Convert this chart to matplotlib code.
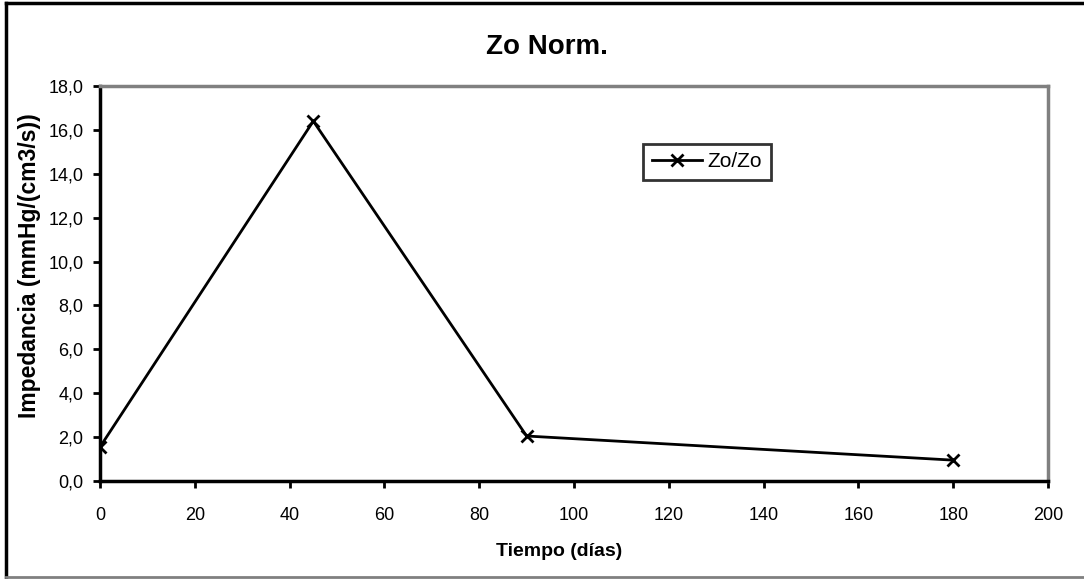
import matplotlib.pyplot as plt
from matplotlib.lines import Line2D
from matplotlib.ticker import FuncFormatter

# Normalised impedance over time
dias = [0, 45, 90, 180]
zo_norm = [1.55, 16.4, 2.05, 0.95]

plt.rcParams["font.family"] = ["Liberation Sans", "DejaVu Sans"]

fig = plt.figure(figsize=(10.84, 5.79), dpi=100)
W, H = 1084, 579
ax = fig.add_axes([100 / W, 1 - 481 / H, (1048 - 100) / W, (481 - 86) / H])

ax.plot(dias, zo_norm, color="black", lw=2, marker="x", markersize=9,
        markeredgewidth=2, label="Zo/Zo")

ax.set_xlim(0, 200)
ax.set_ylim(0, 18)
ax.set_xticks(range(0, 201, 20))
ax.set_yticks(range(0, 19, 2))
ax.yaxis.set_major_formatter(FuncFormatter(lambda v, p: f"{v:.1f}".replace(".", ",")))
ax.tick_params(direction="out", length=5, width=2, labelsize=13)
ax.tick_params(axis="x", pad=14)
ax.tick_params(axis="y", pad=7)

for side in ("left", "bottom"):
    ax.spines[side].set_color("black")
    ax.spines[side].set_linewidth(2.5)
for side in ("top", "right"):
    ax.spines[side].set_color("#808080")
    ax.spines[side].set_linewidth(2.5)

fig.text(559 / W, 1 - 551 / H, "Tiempo (días)", fontsize=14, fontweight="bold",
         ha="center", va="center")
fig.text(30 / W, 1 - 266 / H, "Impedancia (mmHg/(cm3/s))", fontsize=16.5,
         fontweight="bold", rotation=90, ha="center", va="center")
fig.text(547 / W, 1 - 47 / H, "Zo Norm.", fontsize=20, fontweight="bold",
         ha="center", va="center")

leg = ax.legend(loc="upper left", bbox_to_anchor=(0.573, 0.853), fontsize=15,
                frameon=True, fancybox=False, borderpad=0.4, handlelength=2.4,
                handletextpad=0.3, borderaxespad=0)
leg.get_frame().set_edgecolor("black")
leg.get_frame().set_linewidth(2)

# outer chart border
fig.add_artist(Line2D([6 / W, 6 / W], [1 - 3 / H, 1 - 577 / H], color="black", lw=2.5))
fig.add_artist(Line2D([6 / W, 1 + 0.01], [1 - 3 / H, 1 - 3 / H], color="black", lw=2.5))
fig.add_artist(Line2D([6 / W, 1 + 0.01], [1 - 577 / H, 1 - 577 / H], color="#808080", lw=2))

fig.savefig("out.png", dpi=100)
